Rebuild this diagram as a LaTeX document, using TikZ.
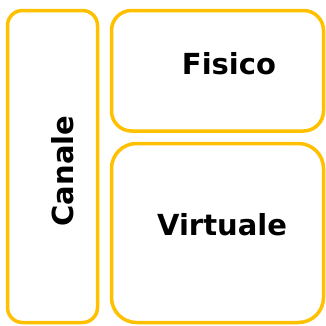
\documentclass[tikz,border=0pt]{standalone}
\usepackage{fontspec}
\setmainfont{DejaVu Sans}
\begin{document}
\begin{tikzpicture}[x=1pt,y=-1pt,
  panel/.style={draw=gold,line width=3.5pt},
  lbl/.style={font=\fontsize{29}{32}\selectfont\bfseries,inner sep=0pt}]
\definecolor{gold}{HTML}{FFC000}
\useasboundingbox (0,0) rectangle (326,325);
\draw[panel,rounded corners=15pt] (7.5,10.5) rectangle (97.5,322.5);
\draw[panel,rounded corners=20pt] (111.5,10.5) rectangle (323.5,131);
\draw[panel,rounded corners=25pt] (111.5,143.5) rectangle (323.5,322.5);
\node[lbl,rotate=90] (canale) at (63,171) {Canale};
\node[lbl] (fisico) at (229,64) {Fisico};
\node[lbl] (virtuale) at (222,225) {Virtuale};
\end{tikzpicture}
\end{document}
